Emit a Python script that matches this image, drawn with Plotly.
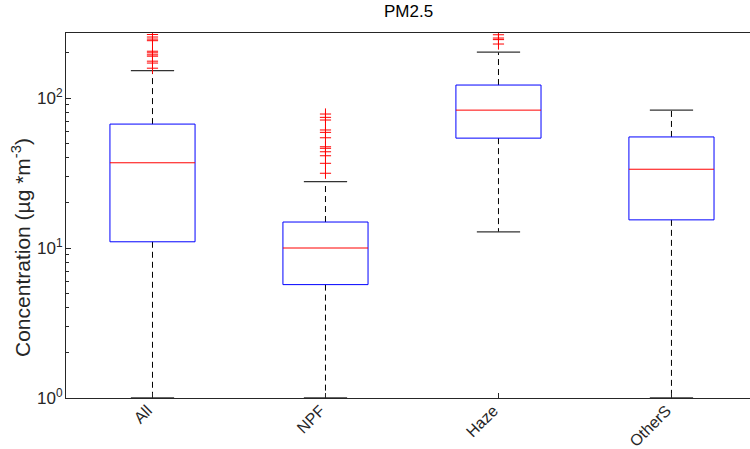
import plotly.graph_objects as go

categories = ["All", "NPF", "Haze", "OtherS"]
q1 = [11.0, 5.7, 54.0, 15.4]
median = [37.0, 10.0, 83.0, 33.5]
q3 = [67.0, 14.9, 122.0, 55.0]
lower_fence = [1.0, 1.0, 12.8, 1.0]
upper_fence = [152.0, 27.7, 202.0, 83.0]
outliers = [
    [158, 171, 176, 190, 194, 200, 205, 241, 247, 255, 265],
    [31.5, 36.7, 41.2, 43.8, 46.2, 47.3, 54.3, 59.0, 61.2, 71.3, 74.3, 78.2],
    [229, 245, 251, 264],
    [],
]
y_tick_vals = [1, 10, 100]
y_tick_text = ["10<sup>0</sup>", "10<sup>1</sup>", "10<sup>2</sup>"]

BOX_HALF = 0.246
CAP_HALF = 0.125
AX_COL = "#262626"
FONT = "Liberation Sans, Arial, sans-serif"

fig = go.Figure()

pos = list(range(1, len(categories) + 1))

# whiskers (dashed)
wx, wy = [], []
for i, p in enumerate(pos):
    wx += [p, p, None, p, p, None]
    wy += [q3[i], upper_fence[i], None, q1[i], lower_fence[i], None]
fig.add_trace(go.Scatter(x=wx, y=wy, mode="lines",
                         line=dict(color="black", width=1, dash="6px,4px"),
                         hoverinfo="skip", showlegend=False))
# caps
cx, cy = [], []
for i, p in enumerate(pos):
    cx += [p - CAP_HALF, p + CAP_HALF, None, p - CAP_HALF, p + CAP_HALF, None]
    cy += [upper_fence[i], upper_fence[i], None, lower_fence[i], lower_fence[i], None]
fig.add_trace(go.Scatter(x=cx, y=cy, mode="lines",
                         line=dict(color="#333333", width=1.3),
                         hoverinfo="skip", showlegend=False))
# boxes
bx, by = [], []
for i, p in enumerate(pos):
    bx += [p - BOX_HALF, p + BOX_HALF, p + BOX_HALF, p - BOX_HALF, p - BOX_HALF, None]
    by += [q1[i], q1[i], q3[i], q3[i], q1[i], None]
fig.add_trace(go.Scatter(x=bx, y=by, mode="lines",
                         line=dict(color="#0000ff", width=1),
                         hoverinfo="skip", showlegend=False))
# medians
mx, my = [], []
for i, p in enumerate(pos):
    mx += [p - BOX_HALF, p + BOX_HALF, None]
    my += [median[i], median[i], None]
fig.add_trace(go.Scatter(x=mx, y=my, mode="lines",
                         line=dict(color="#ff0000", width=1),
                         hoverinfo="skip", showlegend=False))
# outliers
ox, oy = [], []
for i, p in enumerate(pos):
    for v in outliers[i]:
        ox.append(p)
        oy.append(v)
fig.add_trace(go.Scatter(x=ox, y=oy, mode="markers",
                         marker=dict(symbol="cross-thin", size=8,
                                     line=dict(color="#ff0000", width=1)),
                         hoverinfo="skip", showlegend=False))

fig.update_layout(
    width=750, height=449,
    margin=dict(l=66, r=0, t=33, b=51, autoexpand=False),
    paper_bgcolor="white", plot_bgcolor="white",
    font=dict(family=FONT, size=17, color=AX_COL),
    xaxis=dict(range=[0.5, 4.454], tickvals=pos, ticktext=categories,
               tickangle=-45, ticks="inside", ticklen=5, tickcolor=AX_COL,
               showline=True, linecolor=AX_COL, linewidth=1, mirror=True,
               showgrid=False, zeroline=False, automargin=False,
               ticklabelstandoff=-4, ticklabelshift=-5, tickfont=dict(size=16)),
    yaxis=dict(type="log", range=[0, 2.4333], tickvals=y_tick_vals,
               ticktext=y_tick_text, ticks="inside", ticklen=5, tickcolor=AX_COL,
               minor=dict(tickvals=[2, 3, 4, 5, 6, 7, 8, 9, 20, 30, 40, 50, 60, 70, 80, 90, 200],
                          ticks="inside", ticklen=3, tickcolor=AX_COL, showgrid=False),
               showline=True, linecolor=AX_COL, linewidth=1, automargin=False,
               ticklabelstandoff=-1,
               showgrid=False, zeroline=False, tickfont=dict(size=17)),
)
fig.add_annotation(text="PM2.5", xref="paper", yref="paper",
                   x=(408 - 66) / 684, y=1 + (33 - 12) / 365,
                   xanchor="center", yanchor="middle", showarrow=False,
                   font=dict(size=17, color="black"))
fig.add_annotation(text="Concentration (µg *m<sup>-3</sup>)", xref="paper", yref="paper",
                   x=(21 - 66) / 684, y=(398 - 248) / 365,
                   xanchor="center", yanchor="middle", textangle=-90,
                   showarrow=False, font=dict(size=21, color=AX_COL))

fig.write_html("out.html", config={"displayModeBar": False},
               post_script="document.body.style.margin='0';document.body.style.overflow='hidden';")
